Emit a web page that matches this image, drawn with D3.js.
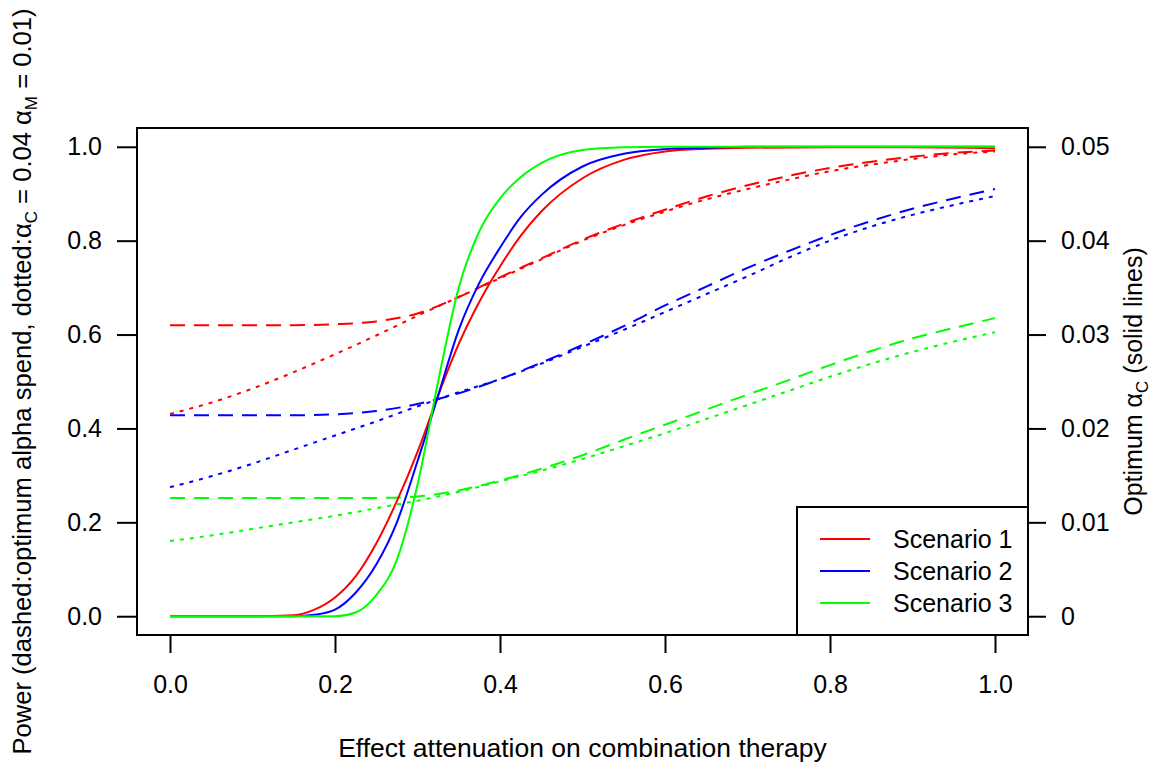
<!DOCTYPE html>
<html>
<head>
<meta charset="utf-8">
<script src="https://cdn.jsdelivr.net/npm/d3@7"></script>
<style>
  body { margin: 0; background: #fff; }
  svg { font-family: "Liberation Sans", Arial, Helvetica, sans-serif; }
</style>
</head>
<body>
<div id="chart"></div>
<script>
// x grid for the solid (optimum alpha) curves
const X_SOLID = [0, 0.05, 0.1, 0.15, 0.175, 0.2, 0.225, 0.25, 0.275, 0.3, 0.325, 0.35,
                 0.375, 0.4, 0.425, 0.45, 0.5, 0.55, 0.6, 0.65, 0.7, 0.8, 0.9, 1.0];
// optimum alpha_C (right axis)
const ALPHA_S1 = [0, 0, 0, 0.0001, 0.0007, 0.002, 0.00425, 0.00775, 0.01225, 0.0175, 0.0235, 0.029,
                  0.0335, 0.03725, 0.0405, 0.0431, 0.04665, 0.0486, 0.0495, 0.0498, 0.0499, 0.04995, 0.04995, 0.04985];
const ALPHA_S2 = [0, 0, 0, 0, 0.00015, 0.0007, 0.0025, 0.0055, 0.01, 0.0165, 0.0235, 0.0305,
                  0.0355, 0.03925, 0.0425, 0.04485, 0.0479, 0.04925, 0.04975, 0.0499, 0.05, 0.05, 0.05, 0.05];
const ALPHA_S3 = [0, 0, 0, 0, 0, 0, 0.0004, 0.00225, 0.006, 0.014, 0.025, 0.035,
                  0.041, 0.0445, 0.04675, 0.04825, 0.04965, 0.04995, 0.05, 0.05, 0.05, 0.05, 0.05, 0.05];

// x grid for the power curves
const X_POWER = [0, 0.05, 0.1, 0.15, 0.2, 0.25, 0.3, 0.35, 0.4, 0.45, 0.5,
                 0.55, 0.6, 0.65, 0.7, 0.75, 0.8, 0.85, 0.9, 0.95, 1.0];
// power with optimum alpha spend (dashed)
const DASHED_S1 = [0.62, 0.62, 0.62, 0.62, 0.622, 0.628, 0.645, 0.68, 0.722, 0.762, 0.802,
                   0.836, 0.866, 0.894, 0.918, 0.938, 0.955, 0.968, 0.979, 0.987, 0.992];
const DASHED_S2 = [0.428, 0.428, 0.428, 0.428, 0.43, 0.437, 0.452, 0.475, 0.505, 0.54, 0.578,
                   0.618, 0.662, 0.702, 0.742, 0.778, 0.812, 0.842, 0.868, 0.89, 0.91];
const DASHED_S3 = [0.252, 0.252, 0.252, 0.252, 0.252, 0.252, 0.255, 0.268, 0.289, 0.314, 0.343,
                   0.376, 0.408, 0.44, 0.472, 0.503, 0.535, 0.565, 0.592, 0.614, 0.635];
// power with alpha_C = 0.04, alpha_M = 0.01 (dotted)
const DOTTED_S1 = [0.431, 0.455, 0.485, 0.52, 0.558, 0.598, 0.64, 0.68, 0.72, 0.76, 0.80,
                   0.833, 0.862, 0.888, 0.91, 0.93, 0.948, 0.962, 0.974, 0.984, 0.99];
const DOTTED_S2 = [0.275, 0.298, 0.325, 0.355, 0.385, 0.415, 0.447, 0.477, 0.505, 0.538, 0.574,
                   0.61, 0.648, 0.686, 0.724, 0.764, 0.8, 0.83, 0.855, 0.876, 0.895];
const DOTTED_S3 = [0.16, 0.172, 0.186, 0.2, 0.214, 0.23, 0.246, 0.265, 0.287, 0.31, 0.335,
                   0.362, 0.39, 0.42, 0.45, 0.48, 0.51, 0.538, 0.563, 0.585, 0.605];

const SCENARIOS = ["Scenario 1", "Scenario 2", "Scenario 3"];
const COLORS = ["#ff0000", "#0000ff", "#00ff00"];
const X_TICKS = [0, 0.2, 0.4, 0.6, 0.8, 1.0];
const Y_TICKS = [0, 0.2, 0.4, 0.6, 0.8, 1.0];
const ALPHA_TICKS = [0, 0.01, 0.02, 0.03, 0.04, 0.05];

const FRAME_WIDTH = 1154;
const FRAME_HEIGHT = 765;
const MARGINS = {left: 137, right: 126, top: 128, bottom: 130};
const VIS_WIDTH = FRAME_WIDTH - MARGINS.left - MARGINS.right;
const VIS_HEIGHT = FRAME_HEIGHT - MARGINS.top - MARGINS.bottom;
const FONT = 25;

const svg = d3.select("#chart")
  .append("svg")
    .attr("width", FRAME_WIDTH)
    .attr("height", FRAME_HEIGHT);

// R style 4% padding on each side
const X_SCALE = d3.scaleLinear().domain([-0.04, 1.04]).range([MARGINS.left, MARGINS.left + VIS_WIDTH]);
const Y_SCALE = d3.scaleLinear().domain([-0.04, 1.04]).range([MARGINS.top + VIS_HEIGHT, MARGINS.top]);
const A_SCALE = d3.scaleLinear().domain([-0.002, 0.052]).range([MARGINS.top + VIS_HEIGHT, MARGINS.top]);

const plot = svg.append("g");

function drawLine(xs, ys, yScale, color, dash) {
  const pts = xs.map((x, i) => [x, ys[i]]);
  plot.append("path")
    .datum(pts)
    .attr("fill", "none")
    .attr("stroke", color)
    .attr("stroke-width", 2)
    .attr("stroke-dasharray", dash)
    .attr("d", d3.line()
      .x(d => X_SCALE(d[0]))
      .y(d => yScale(d[1]))
      .curve(d3.curveMonotoneX));
}

const dashedSeries = [DASHED_S1, DASHED_S2, DASHED_S3];
const dottedSeries = [DOTTED_S1, DOTTED_S2, DOTTED_S3];
const alphaSeries = [ALPHA_S1, ALPHA_S2, ALPHA_S3];

dashedSeries.forEach((ys, i) => drawLine(X_POWER, ys, Y_SCALE, COLORS[i], "15,9"));
dottedSeries.forEach((ys, i) => drawLine(X_POWER, ys, Y_SCALE, COLORS[i], "4,6"));
alphaSeries.forEach((ys, i) => drawLine(X_SOLID, ys, A_SCALE, COLORS[i], null));

// axes
function styleAxis(g) {
  g.select(".domain").remove();
  g.selectAll(".tick line").attr("stroke", "#000").attr("stroke-width", 2);
  g.selectAll(".tick text").attr("fill", "#000").attr("font-size", FONT + "px");
  g.attr("font-family", null);
}

svg.append("g")
  .attr("transform", "translate(0," + (MARGINS.top + VIS_HEIGHT) + ")")
  .call(d3.axisBottom(X_SCALE).tickValues(X_TICKS).tickFormat(d3.format(".1f"))
    .tickSizeOuter(0).tickSize(18).tickPadding(22))
  .call(styleAxis);

svg.append("g")
  .attr("transform", "translate(" + MARGINS.left + ",0)")
  .call(d3.axisLeft(Y_SCALE).tickValues(Y_TICKS).tickFormat(d3.format(".1f"))
    .tickSizeOuter(0).tickSize(20).tickPadding(15))
  .call(styleAxis);

svg.append("g")
  .attr("transform", "translate(" + (MARGINS.left + VIS_WIDTH) + ",0)")
  .call(d3.axisRight(A_SCALE).tickValues(ALPHA_TICKS).tickFormat(d => d === 0 ? "0" : d3.format(".2f")(d))
    .tickSizeOuter(0).tickSize(18).tickPadding(15))
  .call(styleAxis);

// box
svg.append("rect")
  .attr("x", MARGINS.left)
  .attr("y", MARGINS.top)
  .attr("width", VIS_WIDTH)
  .attr("height", VIS_HEIGHT)
  .attr("fill", "none")
  .attr("stroke", "#000")
  .attr("stroke-width", 2);

// axis titles
svg.append("text")
  .attr("x", MARGINS.left + VIS_WIDTH / 2)
  .attr("y", 757)
  .attr("text-anchor", "middle")
  .attr("font-size", "26.5px")
  .text("Effect attenuation on combination therapy");

const yLab = svg.append("text")
  .attr("transform", "translate(31," + (MARGINS.top + VIS_HEIGHT / 2) + ") rotate(-90)")
  .attr("text-anchor", "middle")
  .attr("font-size", "25.6px");
yLab.append("tspan").text("Power (dashed:optimum alpha spend, dotted:\u03b1");
yLab.append("tspan").attr("font-size", "17px").attr("dy", 6).text("C");
yLab.append("tspan").attr("dy", -6).text(" = 0.04 \u03b1");
yLab.append("tspan").attr("font-size", "17px").attr("dy", 6).text("M");
yLab.append("tspan").attr("dy", -6).text(" = 0.01)");

const aLab = svg.append("text")
  .attr("transform", "translate(1142," + (MARGINS.top + VIS_HEIGHT / 2) + ") rotate(-90)")
  .attr("text-anchor", "middle")
  .attr("font-size", FONT + "px");
aLab.append("tspan").text("Optimum \u03b1");
aLab.append("tspan").attr("font-size", "17px").attr("dy", 6).text("C");
aLab.append("tspan").attr("dy", -6).text(" (solid lines)");

// legend
const LEG = {x: 797, y: 507, w: MARGINS.left + VIS_WIDTH - 797, h: MARGINS.top + VIS_HEIGHT - 507};
const legend = svg.append("g");
legend.append("rect")
  .attr("x", LEG.x).attr("y", LEG.y)
  .attr("width", LEG.w).attr("height", LEG.h)
  .attr("fill", "#fff")
  .attr("stroke", "#000")
  .attr("stroke-width", 2);

SCENARIOS.forEach((name, i) => {
  const y = LEG.y + 32 + i * 32;
  legend.append("line")
    .attr("x1", LEG.x + 23).attr("x2", LEG.x + 73)
    .attr("y1", y).attr("y2", y)
    .attr("stroke", COLORS[i])
    .attr("stroke-width", 2);
  legend.append("text")
    .attr("x", LEG.x + 96)
    .attr("y", y)
    .attr("dy", "0.35em")
    .attr("font-size", FONT + "px")
    .text(name);
});
</script>
</body>
</html>
